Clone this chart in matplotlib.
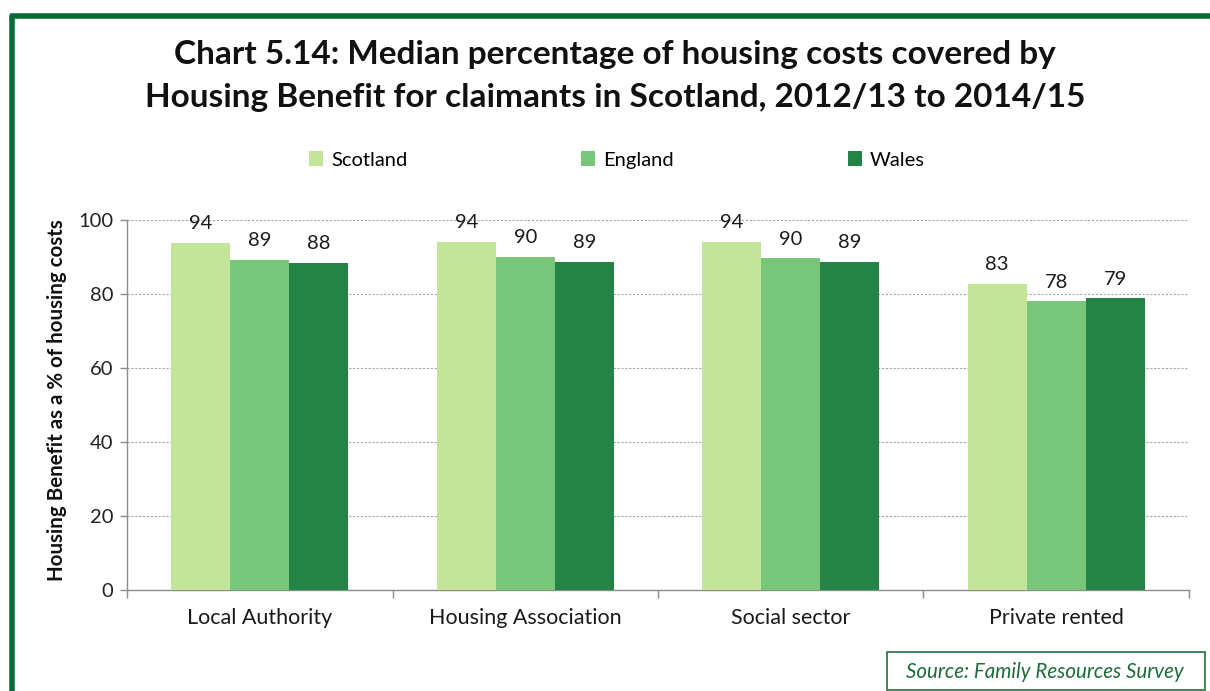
import matplotlib
matplotlib.use("Agg")
import matplotlib.pyplot as plt
import numpy as np
from matplotlib.lines import Line2D
from matplotlib.patches import Rectangle

categories = ["Local Authority", "Housing Association", "Social sector", "Private rented"]
series_names = ["Scotland", "England", "Wales"]
scotland = [93.9, 94.1, 94.0, 82.7]
england = [89.2, 90.1, 89.6, 78.0]
wales = [88.5, 88.6, 88.6, 78.8]
yticks = [0, 20, 40, 60, 80, 100]
title_lines = ["Chart 5.14: Median percentage of housing costs covered by",
               "Housing Benefit for claimants in Scotland, 2012/13 to 2014/15"]
ylabel = "Housing Benefit as a % of housing costs"
source = "Source: Family Resources Survey"

colors = ["#C3E59A", "#78C67A", "#248446"]
FONT = "Lato"
plt.rcParams["font.family"] = [FONT, "DejaVu Sans"]

W, H = 1210, 691
fig = plt.figure(figsize=(W / 100, H / 100), dpi=100)

def fx(px):
    return px / W

def fy(py):
    return 1 - py / H

ax = fig.add_axes([fx(127), fy(590), fx(1189) - fx(127), fy(220) - fy(590)])

x = np.arange(len(categories))
bw = 59 / 265.5
data = [scotland, england, wales]
for i, (vals, name, c) in enumerate(zip(data, series_names, colors)):
    pos = x + (i - 1) * bw
    ax.bar(pos, vals, width=bw, color=c, label=name, zorder=3)
    for xb, v in zip(pos, vals):
        ax.annotate(f"{v:.0f}", (xb, v), xytext=(0, 10), textcoords="offset points",
                    ha="center", va="baseline", fontsize=14.5, color="#1a1a1a")

ax.set_xlim(-0.5, len(categories) - 0.5)
ax.set_ylim(0, 100)
ax.set_yticks(yticks)
ax.set_yticklabels([str(t) for t in yticks], fontsize=14.5, color="#222222")
ax.yaxis.grid(True, linestyle=(0, (2, 1.5)), color="#A6A6A6", linewidth=0.8, zorder=0)
ax.set_xticks(x)
ax.set_xticklabels(categories, fontsize=15.5, color="#1a1a1a")
ax.set_xticks(np.arange(-0.5, len(categories)), minor=True)
ax.tick_params(axis="x", which="major", length=0, pad=13)
ax.tick_params(axis="x", which="minor", length=6, color="#8C8C8C", width=1)
ax.tick_params(axis="y", length=5, color="#8C8C8C", width=1, pad=5)
for s in ["top", "right"]:
    ax.spines[s].set_visible(False)
for s in ["left", "bottom"]:
    ax.spines[s].set_color("#8C8C8C")
    ax.spines[s].set_linewidth(1)

# y label
fig.text(fx(63), fy(400), ylabel, rotation=90, rotation_mode="anchor",
         ha="center", va="baseline", fontsize=14.8, fontweight="bold", color="#111111")

# title
fig.text(fx(615), fy(64), title_lines[0], ha="center", va="baseline",
         fontsize=24, fontweight="bold", color="#111111")
fig.text(fx(615), fy(107), title_lines[1], ha="center", va="baseline",
         fontsize=24, fontweight="bold", color="#111111")

# legend
fs_leg = 14.5
fig.legend(loc="center", bbox_to_anchor=(fx(617), fy(160)), ncol=3, frameon=False,
           fontsize=fs_leg, handlelength=0.7, handleheight=0.7, handletextpad=0.4,
           columnspacing=174 / (fs_leg * 100 / 72))

# border
border_color = "#076A38"
fig.add_artist(Line2D([fx(12), fx(12)], [0, fy(15)], color=border_color, linewidth=4, solid_capstyle="butt"))
fig.add_artist(Line2D([fx(10), 1], [fy(15.5), fy(15.5)], color=border_color, linewidth=4, solid_capstyle="butt"))

# source box
fig.add_artist(Rectangle((fx(887), fy(690)), fx(1205) - fx(887), fy(652) - fy(690),
                         transform=fig.transFigure, fill=False, edgecolor="#2E7D4A", linewidth=1.3))
fig.text(fx(1045), fy(672), source, ha="center", va="center", fontsize=14.8,
         style="italic", color="#1F6B3B")

fig.savefig("out.png", dpi=100)
